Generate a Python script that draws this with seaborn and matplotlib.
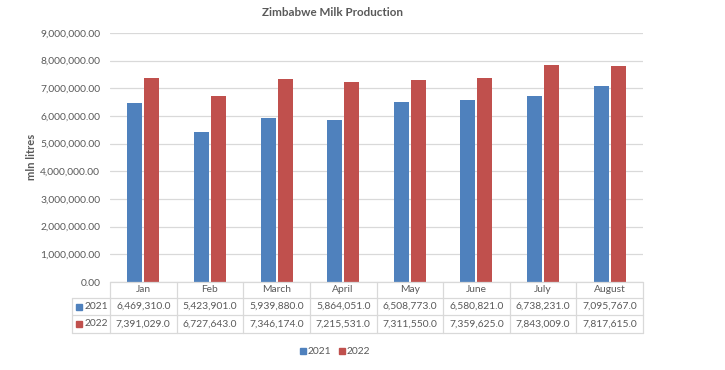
import matplotlib
matplotlib.use("Agg")
import matplotlib.pyplot as plt
import matplotlib.transforms as mtransforms
from matplotlib.lines import Line2D
from matplotlib.patches import Rectangle
import seaborn as sns
import pandas as pd

months = ["Jan", "Feb", "March", "April", "May", "June", "July", "August"]
series_names = ["2021", "2022"]
values_2021 = [6469310.0, 5423901.0, 5939880.0, 5864051.0, 6508773.0, 6580821.0, 6738231.0, 7095767.0]
values_2022 = [7391029.0, 6727643.0, 7346174.0, 7215531.0, 7311550.0, 7359625.0, 7843009.0, 7817615.0]
y_ticks = [0, 1000000, 2000000, 3000000, 4000000, 5000000, 6000000, 7000000, 8000000, 9000000]
title = "Zimbabwe Milk Production"
y_label = "mln litres"

BLUE = "#4F81BD"
RED = "#C0504D"
GRID = "#D9D9D9"
TXT = "#595959"

sns.set_theme(style="white")
plt.rcParams['font.family'] = ['Lato', 'DejaVu Sans']

W, H = 725, 370
fig = plt.figure(figsize=(W / 100, H / 100), dpi=100)
fig.patch.set_facecolor("white")

L, R, T, B = 110, 643, 33, 282
ax = fig.add_axes([L / W, 1 - B / H, (R - L) / W, (B - T) / H])

df = pd.DataFrame({
    "month": months * 2,
    "year": [series_names[0]] * len(months) + [series_names[1]] * len(months),
    "value": values_2021 + values_2022,
})
sns.barplot(data=df, x="month", y="value", hue="year", order=months,
            hue_order=series_names, palette=[BLUE, RED], width=0.51, gap=0.12,
            saturation=1, ax=ax, legend=False, linewidth=0, edgecolor="none")

FS = 7.4
ax.set_ylim(0, 9000000)
ax.set_xlim(-0.5, len(months) - 0.5)
ax.set_yticks(y_ticks)
ax.set_yticklabels([f"{v:,.2f}" for v in y_ticks], fontsize=FS, color=TXT)
ax.tick_params(axis="y", length=0, pad=7)
ax.set_xticks([])
ax.set_xlabel("")
ax.set_ylabel("")
for s in ax.spines.values():
    s.set_visible(False)
ax.grid(axis="y", color=GRID, linewidth=0.9)
ax.set_axisbelow(True)

# Title and y label
fig.text(332 / W, 1 - 12 / H, title, ha="center", va="center", fontsize=8.4,
         fontweight="bold", color=TXT)
fig.text(32 / W, 1 - 157 / H, y_label, ha="center", va="center", rotation=90,
         fontsize=8, fontweight="bold", color=TXT)

# Data table
trans = mtransforms.blended_transform_factory(ax.transData, fig.transFigure)
def fy(px):
    return 1 - px / H

rows_y = [282, 298, 315, 333]
line_kw = dict(color=GRID, linewidth=0.9, clip_on=False)
n = len(months)
for yy in rows_y:
    fig.add_artist(Line2D([-0.5, n - 0.5], [fy(yy), fy(yy)], transform=trans, **line_kw))
for i in range(n + 1):
    fig.add_artist(Line2D([i - 0.5, i - 0.5], [fy(rows_y[0]), fy(rows_y[-1])], transform=trans, **line_kw))
lx0 = 72 / W
lx1 = L / W
for yy in rows_y[1:]:
    fig.add_artist(Line2D([lx0, lx1], [fy(yy), fy(yy)], transform=fig.transFigure, **line_kw))
fig.add_artist(Line2D([lx0, lx0], [fy(rows_y[1]), fy(rows_y[-1])], transform=fig.transFigure, **line_kw))

for i, m in enumerate(months):
    fig.text(i, fy((rows_y[0] + rows_y[1]) / 2), m, transform=trans, ha="center",
             va="center", fontsize=FS, color=TXT)
    fig.text(i, fy((rows_y[1] + rows_y[2]) / 2), f"{values_2021[i]:,.1f}", transform=trans,
             ha="center", va="center", fontsize=FS, color=TXT)
    fig.text(i, fy((rows_y[2] + rows_y[3]) / 2), f"{values_2022[i]:,.1f}", transform=trans,
             ha="center", va="center", fontsize=FS, color=TXT)

for k, (name, col) in enumerate(zip(series_names, [BLUE, RED])):
    yc = (rows_y[k + 1] + rows_y[k + 2]) / 2
    fig.add_artist(Rectangle((76 / W, fy(yc + 3)), 6 / W, 6 / H, color=col,
                             transform=fig.transFigure))
    fig.text(85 / W, fy(yc), name, ha="left", va="center", fontsize=FS, color=TXT)

# Legend
for name, col, x0 in zip(series_names, [BLUE, RED], [300, 339]):
    fig.add_artist(Rectangle((x0 / W, fy(354)), 6 / W, 6 / H, color=col,
                             transform=fig.transFigure))
    fig.text((x0 + 8) / W, fy(351), name, ha="left", va="center", fontsize=FS, color=TXT)

fig.savefig("out.png", dpi=100, facecolor="white")
